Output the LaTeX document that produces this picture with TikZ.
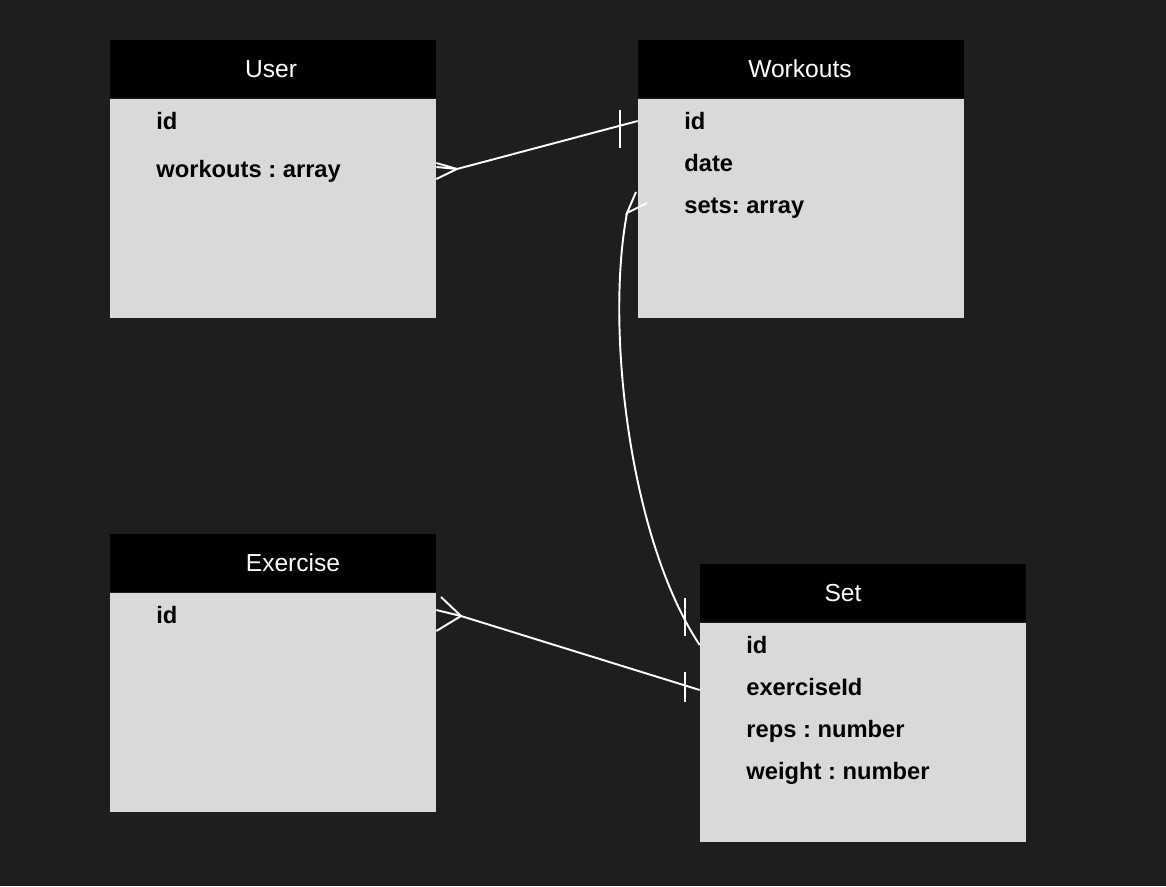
\documentclass[tikz,border=0pt]{standalone}
\usepackage{fontspec}
\setmainfont{Liberation Sans}
\frenchspacing
\definecolor{erdBack}{RGB}{30,30,30}
\definecolor{erdBody}{RGB}{217,217,217}
\usetikzlibrary{positioning,calc}

\begin{document}
\begin{tikzpicture}[x=0.02cm, y=-0.02cm,
  hdr/.style={fill=black, minimum width=6.52cm, minimum height=1.16cm, inner sep=0pt},
  tbl/.style={fill=erdBody, minimum width=6.52cm, minimum height=4.38cm, inner sep=0pt},
  ttl/.style={text=white, inner sep=0pt, text height=0.72em, text depth=0pt,
              yshift=-0.04cm, font=\fontsize{14}{16}\selectfont},
  fld/.style={anchor=west, inner sep=0pt, text height=0.72em, text depth=0pt,
              yshift=-0.04cm, font=\fontsize{13.5}{16}\selectfont\bfseries},
  lnk/.style={white, line width=1.1pt}
]
  \fill[erdBack] (0,0) rectangle (1166,886);

  % User
  \node[hdr] (userhd) at (273,69) {};
  \node[tbl, below=0pt of userhd] (user) {};
  \node[ttl] (usertl) at (271,69) {User};
  \node[fld] (uid)   at (156,121) {id};
  \node[fld] (uwork) at (156,169) {workouts : array};

  % Workouts
  \node[hdr] (workhd) at (801,69) {};
  \node[tbl, below=0pt of workhd] (work) {};
  \node[ttl] (worktl) at (800,69) {Workouts};
  \node[fld] (wid)   at (684,121) {id};
  \node[fld] (wdate) at (684,163) {date};
  \node[fld] (wsets) at (684,205) {sets: array};

  % Exercise
  \node[hdr] (exhd) at (273,563) {};
  \node[tbl, below=0pt of exhd] (ex) {};
  \node[ttl] (extl) at (293,563) {Exercise};
  \node[fld] (eid) at (156,615) {id};

  % Set
  \node[hdr] (sethd) at (863,593) {};
  \node[tbl, below=0pt of sethd] (set) {};
  \node[ttl] (settl) at (843,593) {Set};
  \node[fld] (sid)     at (746,645) {id};
  \node[fld] (sexid)   at (746,687) {exerciseId};
  \node[fld] (sreps)   at (746,729) {reps : number};
  \node[fld] (sweight) at (746,771) {weight : number};

  % User -- Workouts
  \coordinate (uwfoot) at (457,169);
  \draw[lnk] (uwfoot) -- (work.west |- 0,121);
  \draw[lnk] (user.east |- 0,163) -- (uwfoot) -- (user.east |- 0,179);
  \draw[lnk] (user.east |- 0,167) -- (uwfoot);
  \draw[lnk] (620,110) -- (620,148);

  % Workouts -- Set
  \coordinate (wsfoot) at (627,213);
  \draw[lnk] (set.west |- 0,645) .. controls (630,540) and (605,330) .. (wsfoot);
  \draw[lnk] (636,192) -- (wsfoot) -- (647,203);
  \draw[lnk] (685,598) -- (685,636);

  % Exercise -- Set
  \coordinate (esfoot) at (461,616);
  \draw[lnk] (ex.east |- 0,610) -- (esfoot) -- (set.west |- 0,690);
  \draw[lnk] (441,597) -- (esfoot) -- (ex.east |- 0,631);
  \draw[lnk] (685,672) -- (685,702);
\end{tikzpicture}
\end{document}
